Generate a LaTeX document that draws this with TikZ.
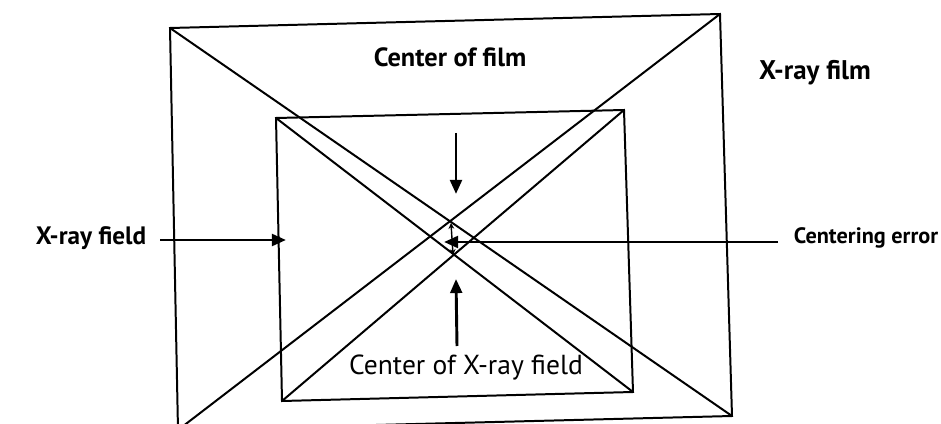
\documentclass[tikz,border=0pt]{standalone}
\usepackage{fontspec}
\setmainfont{PT Sans}
\usetikzlibrary{arrows.meta}
\begin{document}
\begin{tikzpicture}[x=0.03cm,y=-0.03cm,
  frame/.style={line width=1.7pt, line join=miter},
  ptr/.style={line width=2.5pt, -{Triangle[length=12pt,width=10pt]}},
  tiny/.style={line width=1.2pt, {Stealth[length=5pt,width=5pt]}-{Stealth[length=5pt,width=5pt]}},
  lbl/.style={inner sep=0pt, font=\bfseries}]
\useasboundingbox (0,0) rectangle (941,424);
\fill[white] (0,0) rectangle (941,424);
% outer film
\coordinate (oTL) at (170,28);
\coordinate (oTR) at (720,14);
\coordinate (oBR) at (732,416);
\coordinate (oBL) at (178,430);
% inner field
\coordinate (iTL) at (276,118);
\coordinate (iTR) at (624,110);
\coordinate (iBR) at (633,392);
\coordinate (iBL) at (282,401);
\draw[frame] (oTL) -- (oTR) -- (oBR) -- (oBL) -- cycle;
\draw[frame] (oTL) -- (oBR);
\draw[frame] (oTR) -- (oBL);
\draw[frame] (iTL) -- (iTR) -- (iBR) -- (iBL) -- cycle;
\draw[frame] (iTL) -- (iBR);
\draw[frame] (iTR) -- (iBL);
% labels
\node[lbl, font=\fontsize{22.5}{26}\selectfont\bfseries] (cf) at (450,57) {Center of film};
\node[lbl, font=\fontsize{23}{26}\selectfont\bfseries] (xfilm) at (815,73) {X-ray film};
\node[lbl, font=\fontsize{21.5}{25}\selectfont\bfseries] (xfield) at (91,238) {X-ray field};
\node[lbl, font=\fontsize{19}{23}\selectfont\bfseries] (cerr) at (866,238) {Centering error};
\node[inner sep=0pt, font=\fontsize{23.5}{27}\selectfont] (cxf) at (466,368) {Center of X-ray field};
% arrows
\coordinate (cfS) at (456,133);
\coordinate (cfT) at (456,194);
\draw[ptr] (cfS) -- (cfT);
\coordinate (cxS) at (457,346);
\coordinate (cxT) at (456,279);
\draw[ptr] (cxS) -- (cxT);
\coordinate (xfS) at (160,240);
\coordinate (xfT) at (286,240);
\draw[ptr] (xfS) -- (xfT);
\coordinate (ceS) at (778,242);
\coordinate (ceT) at (444,242);
\draw[ptr] (ceS) -- (ceT);
\coordinate (c1) at (451,223);
\coordinate (c2) at (453,255);
\draw[tiny] (c1) -- (c2);
\end{tikzpicture}
\end{document}
